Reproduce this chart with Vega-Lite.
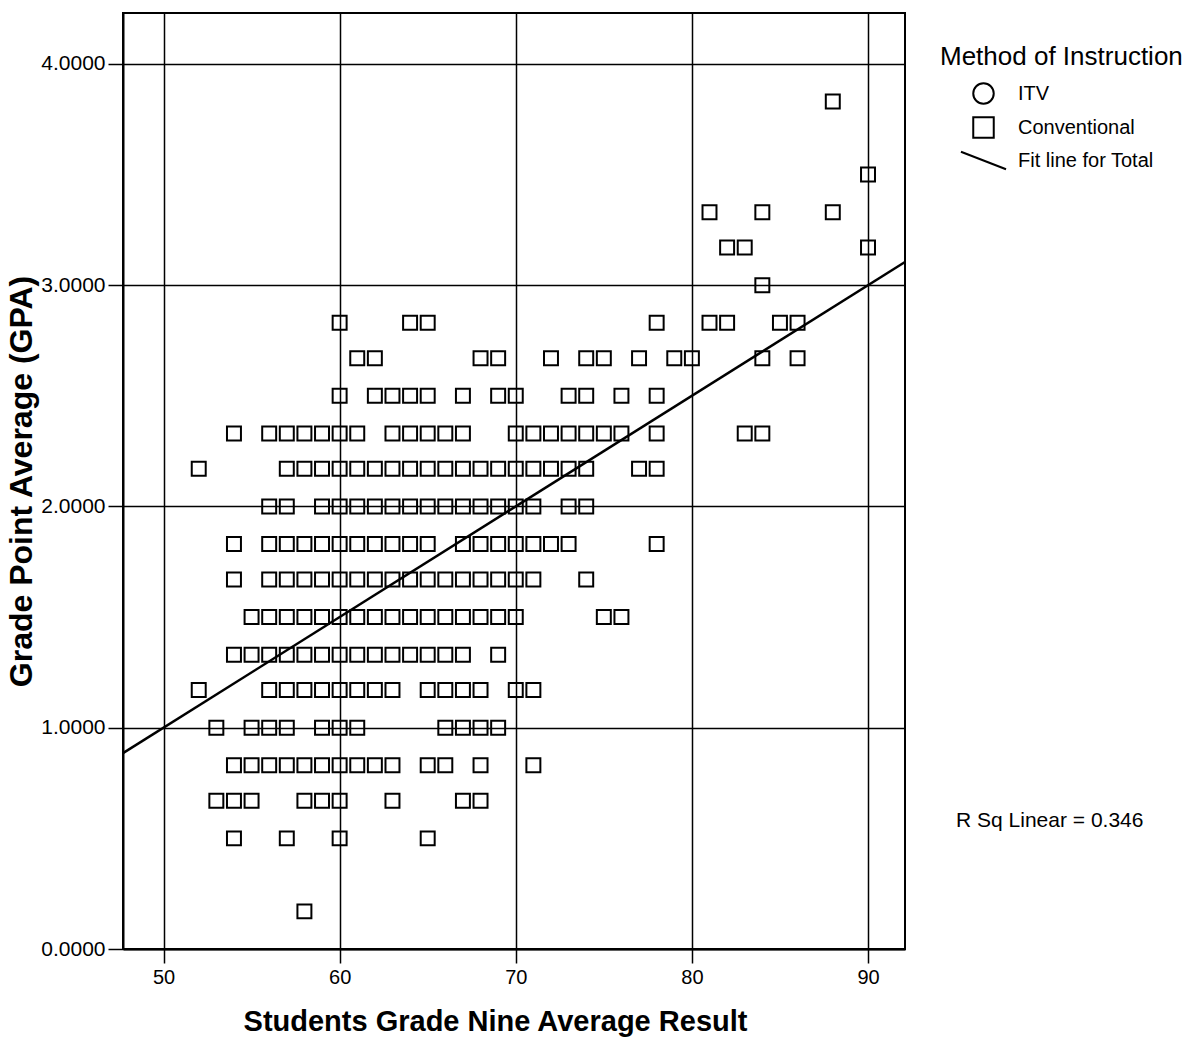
{
  "$schema": "https://vega.github.io/schema/vega-lite/v6.json",
  "width": 782,
  "height": 936,
  "autosize": "none",
  "padding": {"left": 123, "top": 13, "right": 290, "bottom": 101},
  "background": "white",
  "config": {
    "view": {"stroke": "black", "strokeWidth": 2},
    "axis": {
      "grid": true, "gridColor": "black", "gridWidth": 1.5, "gridOpacity": 1,
      "domainColor": "black", "domainWidth": 2,
      "tickColor": "black", "tickWidth": 1.5,
      "labelColor": "black", "titleColor": "black"
    }
  },
  "datasets": {
    "fit": [{"g9": 47.7, "gpa": 0.885}, {"g9": 92.1, "gpa": 3.105}],
    "note": [{"g9": 95.0, "gpa": 0.58, "label": "R Sq Linear = 0.346"}],
    "students": [
      {"g9": 60, "gpa": 2.83}, {"g9": 64, "gpa": 2.83}, {"g9": 65, "gpa": 2.83}, {"g9": 78, "gpa": 2.83}, {"g9": 81, "gpa": 2.83}, {"g9": 82, "gpa": 2.83}, {"g9": 85, "gpa": 2.83}, {"g9": 86, "gpa": 2.83},
      {"g9": 61, "gpa": 2.67}, {"g9": 62, "gpa": 2.67}, {"g9": 68, "gpa": 2.67}, {"g9": 69, "gpa": 2.67}, {"g9": 72, "gpa": 2.67}, {"g9": 74, "gpa": 2.67}, {"g9": 75, "gpa": 2.67}, {"g9": 77, "gpa": 2.67}, {"g9": 79, "gpa": 2.67}, {"g9": 80, "gpa": 2.67}, {"g9": 84, "gpa": 2.67}, {"g9": 86, "gpa": 2.67},
      {"g9": 60, "gpa": 2.5}, {"g9": 62, "gpa": 2.5}, {"g9": 63, "gpa": 2.5}, {"g9": 64, "gpa": 2.5}, {"g9": 65, "gpa": 2.5}, {"g9": 67, "gpa": 2.5}, {"g9": 69, "gpa": 2.5}, {"g9": 70, "gpa": 2.5}, {"g9": 73, "gpa": 2.5}, {"g9": 74, "gpa": 2.5}, {"g9": 76, "gpa": 2.5}, {"g9": 78, "gpa": 2.5},
      {"g9": 54, "gpa": 2.33}, {"g9": 56, "gpa": 2.33}, {"g9": 57, "gpa": 2.33}, {"g9": 58, "gpa": 2.33}, {"g9": 59, "gpa": 2.33}, {"g9": 60, "gpa": 2.33}, {"g9": 61, "gpa": 2.33}, {"g9": 63, "gpa": 2.33}, {"g9": 64, "gpa": 2.33}, {"g9": 65, "gpa": 2.33}, {"g9": 66, "gpa": 2.33}, {"g9": 67, "gpa": 2.33}, {"g9": 70, "gpa": 2.33}, {"g9": 71, "gpa": 2.33}, {"g9": 72, "gpa": 2.33}, {"g9": 73, "gpa": 2.33}, {"g9": 74, "gpa": 2.33}, {"g9": 75, "gpa": 2.33}, {"g9": 76, "gpa": 2.33}, {"g9": 78, "gpa": 2.33}, {"g9": 83, "gpa": 2.33}, {"g9": 84, "gpa": 2.33},
      {"g9": 52, "gpa": 2.17}, {"g9": 57, "gpa": 2.17}, {"g9": 58, "gpa": 2.17}, {"g9": 59, "gpa": 2.17}, {"g9": 60, "gpa": 2.17}, {"g9": 61, "gpa": 2.17}, {"g9": 62, "gpa": 2.17}, {"g9": 63, "gpa": 2.17}, {"g9": 64, "gpa": 2.17}, {"g9": 65, "gpa": 2.17}, {"g9": 66, "gpa": 2.17}, {"g9": 67, "gpa": 2.17}, {"g9": 68, "gpa": 2.17}, {"g9": 69, "gpa": 2.17}, {"g9": 70, "gpa": 2.17}, {"g9": 71, "gpa": 2.17}, {"g9": 72, "gpa": 2.17}, {"g9": 73, "gpa": 2.17}, {"g9": 74, "gpa": 2.17}, {"g9": 77, "gpa": 2.17}, {"g9": 78, "gpa": 2.17},
      {"g9": 56, "gpa": 2.0}, {"g9": 57, "gpa": 2.0}, {"g9": 59, "gpa": 2.0}, {"g9": 60, "gpa": 2.0}, {"g9": 61, "gpa": 2.0}, {"g9": 62, "gpa": 2.0}, {"g9": 63, "gpa": 2.0}, {"g9": 64, "gpa": 2.0}, {"g9": 65, "gpa": 2.0}, {"g9": 66, "gpa": 2.0}, {"g9": 67, "gpa": 2.0}, {"g9": 68, "gpa": 2.0}, {"g9": 69, "gpa": 2.0}, {"g9": 70, "gpa": 2.0}, {"g9": 71, "gpa": 2.0}, {"g9": 73, "gpa": 2.0}, {"g9": 74, "gpa": 2.0},
      {"g9": 54, "gpa": 1.83}, {"g9": 56, "gpa": 1.83}, {"g9": 57, "gpa": 1.83}, {"g9": 58, "gpa": 1.83}, {"g9": 59, "gpa": 1.83}, {"g9": 60, "gpa": 1.83}, {"g9": 61, "gpa": 1.83}, {"g9": 62, "gpa": 1.83}, {"g9": 63, "gpa": 1.83}, {"g9": 64, "gpa": 1.83}, {"g9": 65, "gpa": 1.83}, {"g9": 67, "gpa": 1.83}, {"g9": 68, "gpa": 1.83}, {"g9": 69, "gpa": 1.83}, {"g9": 70, "gpa": 1.83}, {"g9": 71, "gpa": 1.83}, {"g9": 72, "gpa": 1.83}, {"g9": 73, "gpa": 1.83}, {"g9": 78, "gpa": 1.83},
      {"g9": 54, "gpa": 1.67}, {"g9": 56, "gpa": 1.67}, {"g9": 57, "gpa": 1.67}, {"g9": 58, "gpa": 1.67}, {"g9": 59, "gpa": 1.67}, {"g9": 60, "gpa": 1.67}, {"g9": 61, "gpa": 1.67}, {"g9": 62, "gpa": 1.67}, {"g9": 63, "gpa": 1.67}, {"g9": 64, "gpa": 1.67}, {"g9": 65, "gpa": 1.67}, {"g9": 66, "gpa": 1.67}, {"g9": 67, "gpa": 1.67}, {"g9": 68, "gpa": 1.67}, {"g9": 69, "gpa": 1.67}, {"g9": 70, "gpa": 1.67}, {"g9": 71, "gpa": 1.67}, {"g9": 74, "gpa": 1.67},
      {"g9": 55, "gpa": 1.5}, {"g9": 56, "gpa": 1.5}, {"g9": 57, "gpa": 1.5}, {"g9": 58, "gpa": 1.5}, {"g9": 59, "gpa": 1.5}, {"g9": 60, "gpa": 1.5}, {"g9": 61, "gpa": 1.5}, {"g9": 62, "gpa": 1.5}, {"g9": 63, "gpa": 1.5}, {"g9": 64, "gpa": 1.5}, {"g9": 65, "gpa": 1.5}, {"g9": 66, "gpa": 1.5}, {"g9": 67, "gpa": 1.5}, {"g9": 68, "gpa": 1.5}, {"g9": 69, "gpa": 1.5}, {"g9": 70, "gpa": 1.5}, {"g9": 75, "gpa": 1.5}, {"g9": 76, "gpa": 1.5},
      {"g9": 54, "gpa": 1.33}, {"g9": 55, "gpa": 1.33}, {"g9": 56, "gpa": 1.33}, {"g9": 57, "gpa": 1.33}, {"g9": 58, "gpa": 1.33}, {"g9": 59, "gpa": 1.33}, {"g9": 60, "gpa": 1.33}, {"g9": 61, "gpa": 1.33}, {"g9": 62, "gpa": 1.33}, {"g9": 63, "gpa": 1.33}, {"g9": 64, "gpa": 1.33}, {"g9": 65, "gpa": 1.33}, {"g9": 66, "gpa": 1.33}, {"g9": 67, "gpa": 1.33}, {"g9": 69, "gpa": 1.33},
      {"g9": 52, "gpa": 1.17}, {"g9": 56, "gpa": 1.17}, {"g9": 57, "gpa": 1.17}, {"g9": 58, "gpa": 1.17}, {"g9": 59, "gpa": 1.17}, {"g9": 60, "gpa": 1.17}, {"g9": 61, "gpa": 1.17}, {"g9": 62, "gpa": 1.17}, {"g9": 63, "gpa": 1.17}, {"g9": 65, "gpa": 1.17}, {"g9": 66, "gpa": 1.17}, {"g9": 67, "gpa": 1.17}, {"g9": 68, "gpa": 1.17}, {"g9": 70, "gpa": 1.17}, {"g9": 71, "gpa": 1.17},
      {"g9": 53, "gpa": 1.0}, {"g9": 55, "gpa": 1.0}, {"g9": 56, "gpa": 1.0}, {"g9": 57, "gpa": 1.0}, {"g9": 59, "gpa": 1.0}, {"g9": 60, "gpa": 1.0}, {"g9": 61, "gpa": 1.0}, {"g9": 66, "gpa": 1.0}, {"g9": 67, "gpa": 1.0}, {"g9": 68, "gpa": 1.0}, {"g9": 69, "gpa": 1.0},
      {"g9": 54, "gpa": 0.83}, {"g9": 55, "gpa": 0.83}, {"g9": 56, "gpa": 0.83}, {"g9": 57, "gpa": 0.83}, {"g9": 58, "gpa": 0.83}, {"g9": 59, "gpa": 0.83}, {"g9": 60, "gpa": 0.83}, {"g9": 61, "gpa": 0.83}, {"g9": 62, "gpa": 0.83}, {"g9": 63, "gpa": 0.83}, {"g9": 65, "gpa": 0.83}, {"g9": 66, "gpa": 0.83}, {"g9": 68, "gpa": 0.83}, {"g9": 71, "gpa": 0.83},
      {"g9": 53, "gpa": 0.67}, {"g9": 54, "gpa": 0.67}, {"g9": 55, "gpa": 0.67}, {"g9": 58, "gpa": 0.67}, {"g9": 59, "gpa": 0.67}, {"g9": 60, "gpa": 0.67}, {"g9": 63, "gpa": 0.67}, {"g9": 67, "gpa": 0.67}, {"g9": 68, "gpa": 0.67},
      {"g9": 54, "gpa": 0.5}, {"g9": 57, "gpa": 0.5}, {"g9": 60, "gpa": 0.5}, {"g9": 65, "gpa": 0.5},
      {"g9": 58, "gpa": 0.17},
      {"g9": 84, "gpa": 3.0},
      {"g9": 82, "gpa": 3.17}, {"g9": 83, "gpa": 3.17}, {"g9": 90, "gpa": 3.17},
      {"g9": 81, "gpa": 3.33}, {"g9": 84, "gpa": 3.33}, {"g9": 88, "gpa": 3.33},
      {"g9": 90, "gpa": 3.5},
      {"g9": 88, "gpa": 3.83}
    ]
  },
  "layer": [
    {
      "data": {"name": "students"},
      "mark": {"type": "point", "filled": false, "color": "black", "strokeWidth": 2, "size": 195, "opacity": 1},
      "encoding": {
        "x": {
          "field": "g9", "type": "quantitative",
          "scale": {"domain": [47.7, 92.1], "nice": false, "zero": false},
          "axis": {
            "title": "Students Grade Nine Average Result",
            "values": [50, 60, 70, 80, 90], "format": "d",
            "tickSize": 14, "labelPadding": 4,
            "labelFont": "Liberation Sans", "labelFontSize": 20,
            "titleFont": "Liberation Sans", "titleFontSize": 29, "titleFontWeight": "bold",
            "titlePadding": 20, "titleX": 372
          }
        },
        "y": {
          "field": "gpa", "type": "quantitative",
          "scale": {"domain": [0, 4.23], "nice": false, "zero": false},
          "axis": {
            "title": "Grade Point Average (GPA)",
            "values": [0, 1, 2, 3, 4], "format": ".4f",
            "tickSize": 15, "labelPadding": 3,
            "labelFont": "Liberation Sans", "labelFontSize": 21,
            "titleFont": "Liberation Sans", "titleFontSize": 32, "titleFontWeight": "bold",
            "titlePadding": 2
          }
        },
        "shape": {
          "datum": "Conventional",
          "type": "nominal",
          "scale": {"domain": ["ITV", "Conventional", "Fit line for Total"], "range": ["circle", "square", "M-2.2,-0.85L2.2,0.85"]},
          "legend": {
            "title": "Method of Instruction", "orient": "none", "legendX": 817, "legendY": 31,
            "titleFont": "Liberation Sans", "titleFontSize": 26, "titleFontWeight": "normal", "titleColor": "black", "titlePadding": 12, "titleLimit": 400,
            "labelFont": "Liberation Sans", "labelFontSize": 20, "labelColor": "black", "labelLimit": 300,
            "symbolSize": 420, "symbolStrokeWidth": 2, "symbolStrokeColor": "black", "symbolFillColor": "transparent",
            "symbolOffset": 32, "labelOffset": 23, "rowPadding": 5
          }
        }
      }
    },
    {
      "data": {"name": "fit"},
      "mark": {"type": "line", "color": "black", "strokeWidth": 2.5},
      "encoding": {
        "x": {"field": "g9", "type": "quantitative"},
        "y": {"field": "gpa", "type": "quantitative"}
      }
    },
    {
      "data": {"name": "note"},
      "mark": {"type": "text", "align": "left", "baseline": "middle", "font": "Liberation Sans", "fontSize": 21, "color": "black"},
      "encoding": {
        "x": {"field": "g9", "type": "quantitative"},
        "y": {"field": "gpa", "type": "quantitative"},
        "text": {"field": "label"}
      }
    }
  ]
}
